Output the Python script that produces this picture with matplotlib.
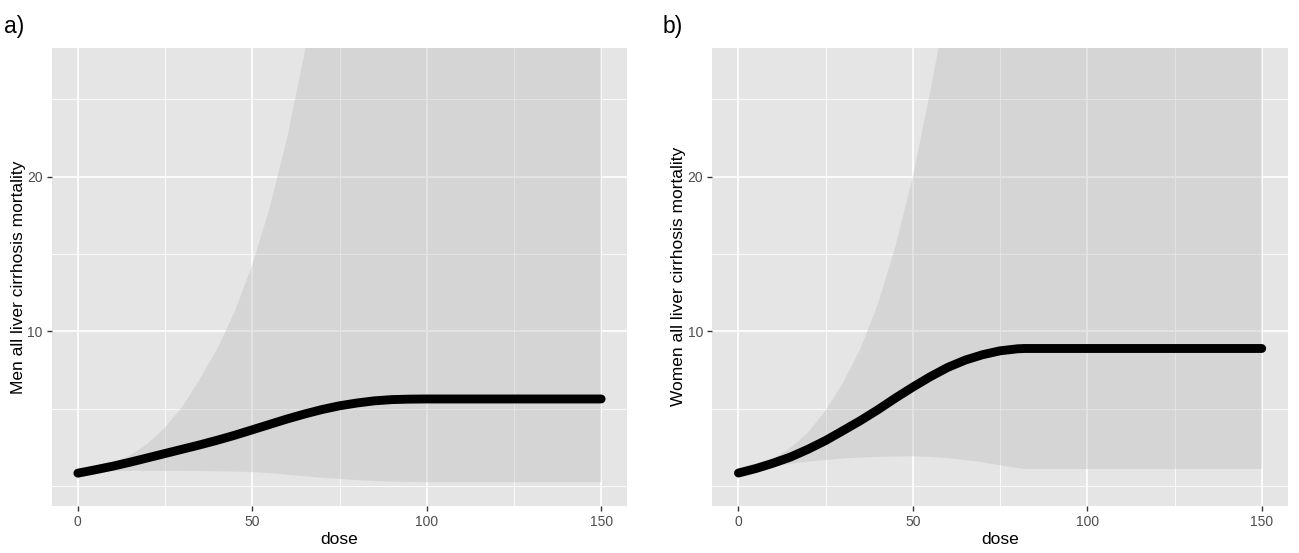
import matplotlib
matplotlib.use("Agg")
import matplotlib.pyplot as plt

plt.rcParams['font.family'] = ['Liberation Sans', 'DejaVu Sans']

# ---- data: men ----
men_dose = [0, 5, 10, 15, 20, 25, 30, 35, 40, 45, 50, 55, 60, 65, 70, 75, 80, 85, 90, 95, 100, 110, 120, 130, 140, 150]
men_rr = [0.85, 1.07, 1.3, 1.56, 1.84, 2.12, 2.4, 2.68, 2.98, 3.3, 3.65, 4.0, 4.35, 4.67, 4.96, 5.2, 5.38, 5.52, 5.6, 5.63, 5.64, 5.64, 5.64, 5.64, 5.64, 5.64]
men_lo = [0.85, 0.93, 0.98, 1.0, 1.0, 1.0, 1.0, 0.99, 0.97, 0.95, 0.92, 0.85, 0.75, 0.65, 0.55, 0.48, 0.4, 0.34, 0.3, 0.28, 0.27, 0.27, 0.27, 0.27, 0.27, 0.27]
men_hi = [0.85, 1.17, 1.52, 2.0, 2.75, 3.8, 5.15, 6.95, 8.9, 11.3, 14.3, 18.0, 22.5, 28.0, 34.5, 42, 51, 61, 72, 85, 100, 130, 165, 200, 250, 300]

# ---- data: women ----
wom_dose = [0, 5, 10, 15, 20, 25, 30, 35, 40, 45, 50, 55, 60, 65, 70, 75, 80, 82, 85, 90, 100, 110, 120, 130, 140, 150]
wom_rr = [0.86, 1.15, 1.5, 1.9, 2.4, 2.96, 3.6, 4.25, 4.95, 5.7, 6.41, 7.08, 7.68, 8.15, 8.5, 8.75, 8.88, 8.9, 8.9, 8.9, 8.9, 8.9, 8.9, 8.9, 8.9, 8.9]
wom_lo = [0.86, 1.05, 1.28, 1.45, 1.6, 1.7, 1.8, 1.86, 1.9, 1.93, 1.94, 1.9, 1.82, 1.7, 1.55, 1.36, 1.18, 1.12, 1.12, 1.12, 1.12, 1.12, 1.12, 1.12, 1.12, 1.12]
wom_hi = [0.86, 1.3, 1.82, 2.5, 3.5, 4.9, 6.7, 8.9, 11.8, 15.5, 20, 25.5, 31.5, 38.5, 46, 54, 63, 67, 72, 82, 100, 120, 140, 160, 180, 200]

x_ticks = [0, 50, 100, 150]
x_minor = [25, 75, 125]
y_ticks = [10, 20]
y_minor = [0, 5, 15, 25]

panels = [
    ("a)", "Men all liver cirrhosis mortality", men_dose, men_rr, men_lo, men_hi),
    ("b)", "Women all liver cirrhosis mortality", wom_dose, wom_rr, wom_lo, wom_hi),
]

W, H = 1299, 553
fig = plt.figure(figsize=(W / 100, H / 100), dpi=100)
fig.patch.set_facecolor("white")

left_px = [51.7, 712.3]
top_px, bot_px = 48.0, 505.7
width_px = 575.6

for i, (tag, ylab, dose, rr, lo, hi) in enumerate(panels):
    ax = fig.add_axes([left_px[i] / W, (H - bot_px) / H, width_px / W, (bot_px - top_px) / H])
    ax.set_facecolor("#E5E5E5")
    ax.set_xlim(-7.5, 157.5)
    ax.set_ylim(-1.25, 28.3)
    for v in x_minor:
        ax.axvline(v, color="white", lw=0.6, zorder=0.5)
    for v in y_minor:
        ax.axhline(v, color="white", lw=0.6, zorder=0.5)
    for v in x_ticks:
        ax.axvline(v, color="white", lw=1.2, zorder=0.6)
    for v in y_ticks:
        ax.axhline(v, color="white", lw=1.2, zorder=0.6)
    ax.fill_between(dose, lo, hi, color="#BFBFBF", alpha=0.4, lw=0, zorder=1)
    ax.plot(dose, rr, color="black", lw=6.4, solid_capstyle="round", solid_joinstyle="round", zorder=2)
    ax.set_xticks(x_ticks)
    ax.set_yticks(y_ticks)
    ax.tick_params(axis="both", colors="#333333", labelcolor="#4D4D4D", labelsize=10,
                   length=3.5, width=1.0, direction="out", pad=3)
    for s in ax.spines.values():
        s.set_visible(False)
    ax.set_xlabel("dose", fontsize=12.5, color="black", labelpad=2)
    ax.set_ylabel(ylab, fontsize=12.5, color="black", labelpad=1)
    fig.text((4 if i == 0 else 663) / W, 1 - 26 / H, tag, fontsize=16.5, va="center", ha="left")

fig.savefig("out.png", dpi=100)
